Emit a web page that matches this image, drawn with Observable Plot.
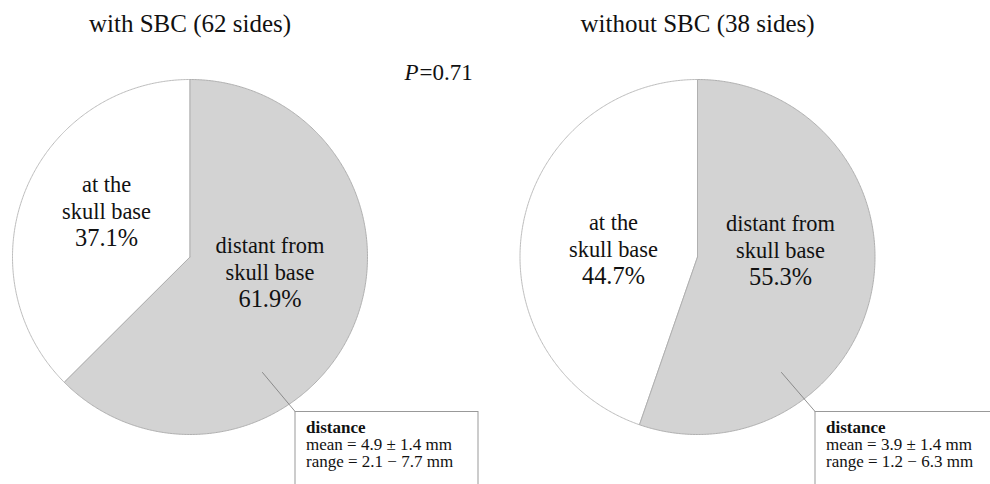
<!DOCTYPE html>
<html><head><meta charset="utf-8">
<script src="https://cdn.jsdelivr.net/npm/d3@7"></script>
<script src="https://cdn.jsdelivr.net/npm/@observablehq/plot@0.6"></script>
<style>
body{margin:0;background:#fff} svg{display:block}
#chart svg, #chart svg text, #chart svg tspan { font-family: "Liberation Serif", "Times New Roman", serif !important; }
</style>
</head><body><div id="chart"></div>
<script>
// ---- data ----
const groups = ["with SBC (62 sides)", "without SBC (38 sides)"];
const categoryLines = [["distant from", "skull base"], ["at the", "skull base"]];
const distantPct = [61.9, 55.3];
const atBasePct = [37.1, 44.7];
const distMean = [4.9, 3.9];
const distSD = [1.4, 1.4];
const distMin = [2.1, 1.2];
const distMax = [7.7, 6.3];
const pValue = "0.71";

// ---- layout ----
const W = 990, H = 484;
const layout = {
  cx: [189.5, 697], cy: 256.5, r: 177.5,
  titleY: 31,
  labelAdj: [[[-2, -11.5], [-1.5, -3.5]], [[-4.5, -14], [3.5, 15]]],
  leaderStart: [[72.5, 115.5], [84, 115.5]],
  boxOff: [[105.5, 155], [118, 155]], boxW: [183, 200], boxH: 100,
  pPos: [418, 79]
};
const fills = ["#d3d3d3", "#ffffff"];

const pie = d3.pie().sort(null).value(d => d.value);
const polyPts = [], labelLines = [], pctLabels = [], titles = [], boxes = [], leaders = [], boxText = [];
groups.forEach((g, i) => {
  const cx = layout.cx[i], cy = layout.cy, r = layout.r;
  titles.push({text: g, x: cx, y: layout.titleY});
  const vals = [{j: 0, value: distantPct[i]}, {j: 1, value: atBasePct[i]}];
  pie(vals).forEach(a => {
    const j = a.data.j, key = i + "-" + j;
    polyPts.push({key, j, x: cx, y: cy});
    const span = a.endAngle - a.startAngle;
    const n = Math.max(2, Math.ceil(span / (Math.PI / 360)));
    for (let k = 0; k <= n; k++) {
      const t = a.startAngle + span * k / n;
      polyPts.push({key, j, x: cx + r * Math.sin(t), y: cy - r * Math.cos(t)});
    }
    polyPts.push({key, j, x: cx, y: cy});
    const mid = (a.startAngle + a.endAngle) / 2;
    const [dx, dy] = layout.labelAdj[i][j];
    const lx = cx + 0.5 * r * Math.sin(mid) + dx;
    const ly = cy - 0.5 * r * Math.cos(mid) + dy;
    categoryLines[j].forEach((t, k) => labelLines.push({text: t, x: lx, y: ly + (k - 1) * 27}));
    pctLabels.push({text: a.data.value.toFixed(1) + "%", x: lx, y: ly + 27});
  });
  const bx = cx + layout.boxOff[i][0], by = cy + layout.boxOff[i][1];
  boxes.push({x1: bx, x2: bx + layout.boxW[i], y1: by, y2: by + layout.boxH});
  leaders.push({key: i, x: cx + layout.leaderStart[i][0], y: cy + layout.leaderStart[i][1]});
  leaders.push({key: i, x: bx, y: by});
  boxText.push({text: "distance", bold: true, x: bx + 10.5, y: by + 21});
  boxText.push({text: `mean = ${distMean[i].toFixed(1)} \u00b1 ${distSD[i].toFixed(1)} mm`, x: bx + 10.5, y: by + 38});
  boxText.push({text: `range = ${distMin[i].toFixed(1)} \u2212 ${distMax[i].toFixed(1)} mm`, x: bx + 10.5, y: by + 55});
});

const font = "Liberation Serif";
const plot = Plot.plot({
  width: W, height: H, margin: 0,
  x: {domain: [0, W], range: [0, W], axis: null},
  y: {domain: [0, H], range: [0, H], axis: null},
  style: {fontFamily: font, background: "#fff"},
  marks: [
    Plot.line(polyPts.filter(d => d.j === 1), {x: "x", y: "y", z: "key", fill: fills[1], stroke: "#bdbdbd", strokeWidth: 1, curve: "linear"}),
    Plot.line(polyPts.filter(d => d.j === 0), {x: "x", y: "y", z: "key", fill: fills[0], stroke: "#b0b0b0", strokeWidth: 1, curve: "linear"}),
    Plot.line(leaders, {x: "x", y: "y", z: "key", stroke: "#777", strokeWidth: 0.8}),
    Plot.rect(boxes, {x1: "x1", x2: "x2", y1: "y1", y2: "y2", fill: "#fff", stroke: "#999", strokeWidth: 1}),
    Plot.text(boxText.filter(d => d.bold), {x: "x", y: "y", text: "text", textAnchor: "start", lineAnchor: "bottom", fontSize: 17, fontWeight: "bold", fill: "#111", fontFamily: font}),
    Plot.text(boxText.filter(d => !d.bold), {x: "x", y: "y", text: "text", textAnchor: "start", lineAnchor: "bottom", fontSize: 17, fill: "#111", fontFamily: font}),
    Plot.text(titles, {x: "x", y: "y", text: "text", lineAnchor: "bottom", fontSize: 25, fill: "#111", fontFamily: font}),
    Plot.text(labelLines, {x: "x", y: "y", text: "text", lineAnchor: "bottom", fontSize: 22.4, fill: "#111", fontFamily: font}),
    Plot.text(pctLabels, {x: "x", y: "y", text: "text", lineAnchor: "bottom", fontSize: 24.4, fill: "#111", fontFamily: font}),
    Plot.text([{t: "P"}], {x: () => layout.pPos[0], y: () => layout.pPos[1], text: "t", textAnchor: "end", lineAnchor: "bottom", fontSize: 23, fontStyle: "italic", fill: "#111", fontFamily: font}),
    Plot.text([{t: "=" + pValue}], {x: () => layout.pPos[0] + 1, y: () => layout.pPos[1], text: "t", textAnchor: "start", lineAnchor: "bottom", fontSize: 23, fill: "#111", fontFamily: font})
  ]
});
document.getElementById("chart").appendChild(plot);
</script>
</body></html>
